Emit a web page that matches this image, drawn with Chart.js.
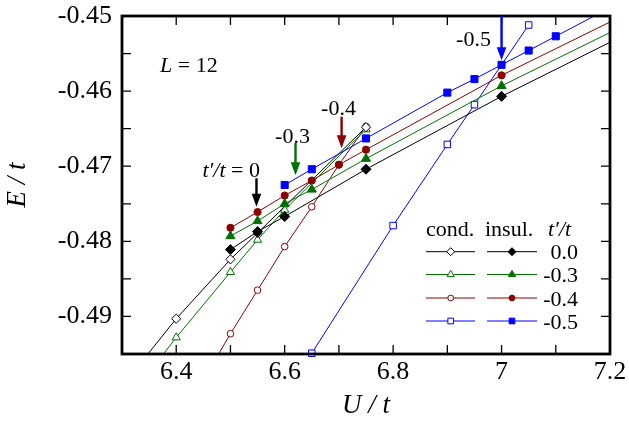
<!DOCTYPE html>
<html><head><meta charset="utf-8">
<script src="https://cdn.jsdelivr.net/npm/chart.js@4/dist/chart.umd.min.js"></script>
<style>html,body{margin:0;padding:0;background:#fff;} canvas{display:block;}</style>
</head><body>
<canvas id="c" width="629" height="424"></canvas>
<script>
// ---------------- data ----------------
const xTickValues = [6.4, 6.6, 6.8, 7.0, 7.2];
const xTickText   = ['6.4', '6.6', '6.8', '7', '7.2'];
const yTickValues = [-0.49, -0.48, -0.47, -0.46, -0.45];
const yTickText   = ['-0.49', '-0.48', '-0.47', '-0.46', '-0.45'];
const xMinorTicks = [6.4, 6.5, 6.6, 6.7, 6.8, 6.9, 7.0, 7.1];
const yMinorTicks = [-0.49, -0.485, -0.48, -0.475, -0.47, -0.465, -0.46, -0.455];

const tpNames = ['0.0', '-0.3', '-0.4', '-0.5'];

// conducting state (open markers)
const condU_00 = [6.3, 6.4, 6.5, 6.55, 6.75];
const condE_00 = [-0.4993, -0.4903, -0.4824, -0.4789, -0.4648];
const condU_03 = [6.3, 6.4, 6.5, 6.55, 6.6, 6.75];
const condE_03 = [-0.5021, -0.4928, -0.4841, -0.4798, -0.4758, -0.4651];
const condU_04 = [6.45, 6.5, 6.55, 6.6, 6.65, 6.7, 6.75];
const condE_04 = [-0.4985, -0.4923, -0.4865, -0.4807, -0.4754, -0.4698, -0.4647];
const condU_05 = [6.65, 6.8, 6.9, 6.95, 7.05];
const condE_05 = [-0.4949, -0.4779, -0.4671, -0.4618, -0.4512];

// insulating state (filled markers); line continues to the right frame
const insulU_00 = [6.5, 6.55, 6.6, 6.75, 7.0];
const insulE_00 = [-0.4811, -0.4787, -0.4767, -0.4704, -0.4607];
const insulU_03 = [6.5, 6.55, 6.6, 6.65, 6.75, 7.0];
const insulE_03 = [-0.4793, -0.4773, -0.4750, -0.4731, -0.4690, -0.4593];
const insulU_04 = [6.5, 6.55, 6.6, 6.65, 6.7, 6.75, 7.0];
const insulE_04 = [-0.4782, -0.4761, -0.4739, -0.4719, -0.4698, -0.4678, -0.4579];
const insulU_05 = [6.6, 6.65, 6.75, 6.9, 6.95, 7.0, 7.05, 7.1];
const insulE_05 = [-0.4725, -0.4704, -0.4663, -0.4602, -0.4584, -0.4565, -0.4546, -0.4527];
// where each insulating line meets the right edge (U = 7.2)
const lineEndU = 7.2;
const lineEndE = [-0.4535, -0.4522, -0.4508, -0.4489];

// arrows: [U, E at tail, E at tip]
const arrowU    = [6.548, 6.62, 6.705, 7.0];
const arrowTail = [-0.4716, -0.4669, -0.4634, -0.4500];
const arrowTip  = [-0.4754, -0.4712, -0.4676, -0.4559];

// ---------------- styles ----------------
const colors = ['#000000', '#007000', '#8b0000', '#0000ff'];
const shapes = ['rectRot', 'triangle', 'circle', 'rect'];
const radii  = [5, 5.2, 3.6, 5];

function pts(u, e) { return u.map((v, i) => ({x: v, y: e[i]})); }

const datasets = [];
const condU = [condU_00, condU_03, condU_04, condU_05];
const condE = [condE_00, condE_03, condE_04, condE_05];
const insU = [insulU_00, insulU_03, insulU_04, insulU_05];
const insE = [insulE_00, insulE_03, insulE_04, insulE_05];
for (let k = 0; k < 4; k++) {
  datasets.push({
    label: 'cond ' + tpNames[k],
    data: pts(condU[k], condE[k]),
    showLine: true, borderColor: colors[k], borderWidth: 1,
    pointStyle: shapes[k], pointRadius: radii[k] * 0.92,
    pointBackgroundColor: '#ffffff', pointBorderColor: colors[k], pointBorderWidth: 1,
    order: 10 + k,
    clip: k === 3 ? {left: 0, top: 0, right: 0, bottom: 6} : 0
  });
  const d = pts(insU[k], insE[k]).concat([{x: lineEndU, y: lineEndE[k]}]);
  datasets.push({
    label: 'insul ' + tpNames[k],
    data: d,
    showLine: true, borderColor: colors[k], borderWidth: 1,
    pointStyle: shapes[k], pointRadius: d.map((p, i) => i === d.length - 1 ? 0 : radii[k]),
    pointBackgroundColor: colors[k], pointBorderColor: colors[k], pointBorderWidth: 1,
    order: k,
    clip: 0
  });
}

const SERIF = "'Liberation Serif', 'Times New Roman', serif";

function drawMarker(ctx, shape, x, y, r, fill, stroke) {
  ctx.beginPath();
  if (shape === 'circle') ctx.arc(x, y, r, 0, Math.PI * 2);
  else if (shape === 'rect') { const s = r * Math.SQRT1_2; ctx.rect(x - s, y - s, 2 * s, 2 * s); }
  else if (shape === 'rectRot') { ctx.moveTo(x - r, y); ctx.lineTo(x, y - r); ctx.lineTo(x + r, y); ctx.lineTo(x, y + r); ctx.closePath(); }
  else if (shape === 'triangle') {
    for (let i = 0; i < 3; i++) { const a = -Math.PI / 2 + i * 2 * Math.PI / 3; const px = x + r * Math.cos(a), py = y + r * Math.sin(a); i ? ctx.lineTo(px, py) : ctx.moveTo(px, py); }
    ctx.closePath();
  }
  ctx.fillStyle = fill; ctx.fill();
  ctx.strokeStyle = stroke; ctx.lineWidth = 1; ctx.stroke();
}

function mixedText(ctx, parts, x, y, align, size) {
  let w = 0;
  parts.forEach(p => { ctx.font = (p[1] ? 'italic ' : '') + size + 'px ' + SERIF; w += ctx.measureText(p[0]).width; });
  let cx = align === 'right' ? x - w : (align === 'center' ? x - w / 2 : x);
  ctx.textAlign = 'left';
  parts.forEach(p => { ctx.font = (p[1] ? 'italic ' : '') + size + 'px ' + SERIF; ctx.fillText(p[0], cx, y); cx += ctx.measureText(p[0]).width; });
}

const deco = {
  id: 'deco',
  afterDatasetsDraw(chart) {
    const {ctx, chartArea: a, scales: {x, y}} = chart;
    ctx.save();
    ctx.fillStyle = '#000'; ctx.strokeStyle = '#000';
    ctx.lineWidth = 1.3;
    const TL = 9;
    xMinorTicks.forEach(v => {
      const px = x.getPixelForValue(v);
      ctx.beginPath(); ctx.moveTo(px, a.bottom); ctx.lineTo(px, a.bottom - TL);
      ctx.moveTo(px, a.top); ctx.lineTo(px, a.top + TL); ctx.stroke();
    });
    yMinorTicks.forEach(v => {
      const py = y.getPixelForValue(v);
      ctx.beginPath(); ctx.moveTo(a.left, py); ctx.lineTo(a.left + TL, py);
      ctx.moveTo(a.right, py); ctx.lineTo(a.right - TL, py); ctx.stroke();
    });
    ctx.lineWidth = 2.8;
    ctx.strokeRect(a.left, a.top, a.right - a.left, a.bottom - a.top);

    arrowU.forEach((u, k) => {
      const px = x.getPixelForValue(u);
      const y0 = y.getPixelForValue(arrowTail[k]);
      const y1 = y.getPixelForValue(arrowTip[k]);
      ctx.strokeStyle = colors[k]; ctx.fillStyle = colors[k];
      ctx.lineWidth = 2.4;
      ctx.beginPath(); ctx.moveTo(px, y0); ctx.lineTo(px, y1 - 10); ctx.stroke();
      ctx.beginPath(); ctx.moveTo(px - 4.8, y1 - 13); ctx.lineTo(px + 4.8, y1 - 13); ctx.lineTo(px, y1); ctx.closePath(); ctx.fill();
    });

    ctx.fillStyle = '#000'; ctx.textBaseline = 'alphabetic';
    mixedText(ctx, [["t\u2032/t", true], [" = 0", false]], 260, 177, 'right', 22);
    mixedText(ctx, [["-0.3", false]], 292.5, 143, 'center', 22);
    mixedText(ctx, [["-0.4", false]], 338.5, 115, 'center', 22);
    mixedText(ctx, [["-0.5", false]], 473.5, 46, 'center', 22);
    mixedText(ctx, [["L", true], [" = 12", false]], 160, 72, 'left', 22);

    mixedText(ctx, [["cond.", false]], 426, 236, 'left', 22);
    mixedText(ctx, [["insul.", false]], 485, 236, 'left', 22);
    mixedText(ctx, [["t\u2032/t", true]], 548, 236, 'left', 22);
    const rowY = [251.7, 274.5, 298, 321];
    for (let k = 0; k < 4; k++) {
      const ry = rowY[k];
      ctx.strokeStyle = colors[k]; ctx.lineWidth = 1;
      ctx.beginPath(); ctx.moveTo(426, ry); ctx.lineTo(475, ry); ctx.moveTo(487, ry); ctx.lineTo(537, ry); ctx.stroke();
      drawMarker(ctx, shapes[k], 450.7, ry, radii[k] * 0.8, '#fff', colors[k]);
      drawMarker(ctx, shapes[k], 512, ry, radii[k] * 0.8, colors[k], colors[k]);
      ctx.fillStyle = '#000';
      mixedText(ctx, [[tpNames[k], false]], 578, ry + 7.5, 'right', 22);
    }
    ctx.restore();
  }
};

new Chart(document.getElementById('c'), {
  type: 'scatter',
  data: {datasets},
  options: {
    responsive: false, animation: false, events: [],
    devicePixelRatio: 1,
    layout: {padding: {top: 16, right: 19, bottom: 0, left: 0}},
    plugins: {legend: {display: false}, tooltip: {enabled: false}},
    scales: {
      x: {
        type: 'linear', min: 6.3, max: 7.2,
        afterBuildTicks: s => { s.ticks = xTickValues.map(v => ({value: v})); },
        afterFit: s => { s.height = 70; s.paddingLeft = 0; s.paddingRight = 0; },
        grid: {display: false, drawTicks: false}, border: {display: false},
        ticks: {
          autoSkip: false, maxRotation: 0, padding: 3, color: '#000',
          font: {family: SERIF, size: 26},
          callback: (v) => { const i = xTickValues.findIndex(t => Math.abs(t - v) < 1e-6); return i >= 0 ? xTickText[i] : ''; }
        },
        title: {display: true, text: 'U / t', color: '#000', font: {family: SERIF, size: 27, style: 'italic'}, padding: {top: 0, bottom: 2}}
      },
      y: {
        type: 'linear', min: -0.495, max: -0.45,
        afterBuildTicks: s => { s.ticks = yTickValues.map(v => ({value: v})); },
        afterFit: s => { s.width = 122; s.paddingTop = 0; s.paddingBottom = 0; },
        grid: {display: false, drawTicks: false}, border: {display: false},
        ticks: {
          autoSkip: false, padding: 10, color: '#000',
          font: {family: SERIF, size: 26},
          callback: (v) => { const i = yTickValues.findIndex(t => Math.abs(t - v) < 1e-6); return i >= 0 ? yTickText[i] : ''; }
        },
        title: {display: true, text: 'E / t', color: '#000', font: {family: SERIF, size: 27, style: 'italic'}, padding: {top: 2, bottom: 0}}
      }
    }
  },
  plugins: [deco]
});
</script>
</body></html>
